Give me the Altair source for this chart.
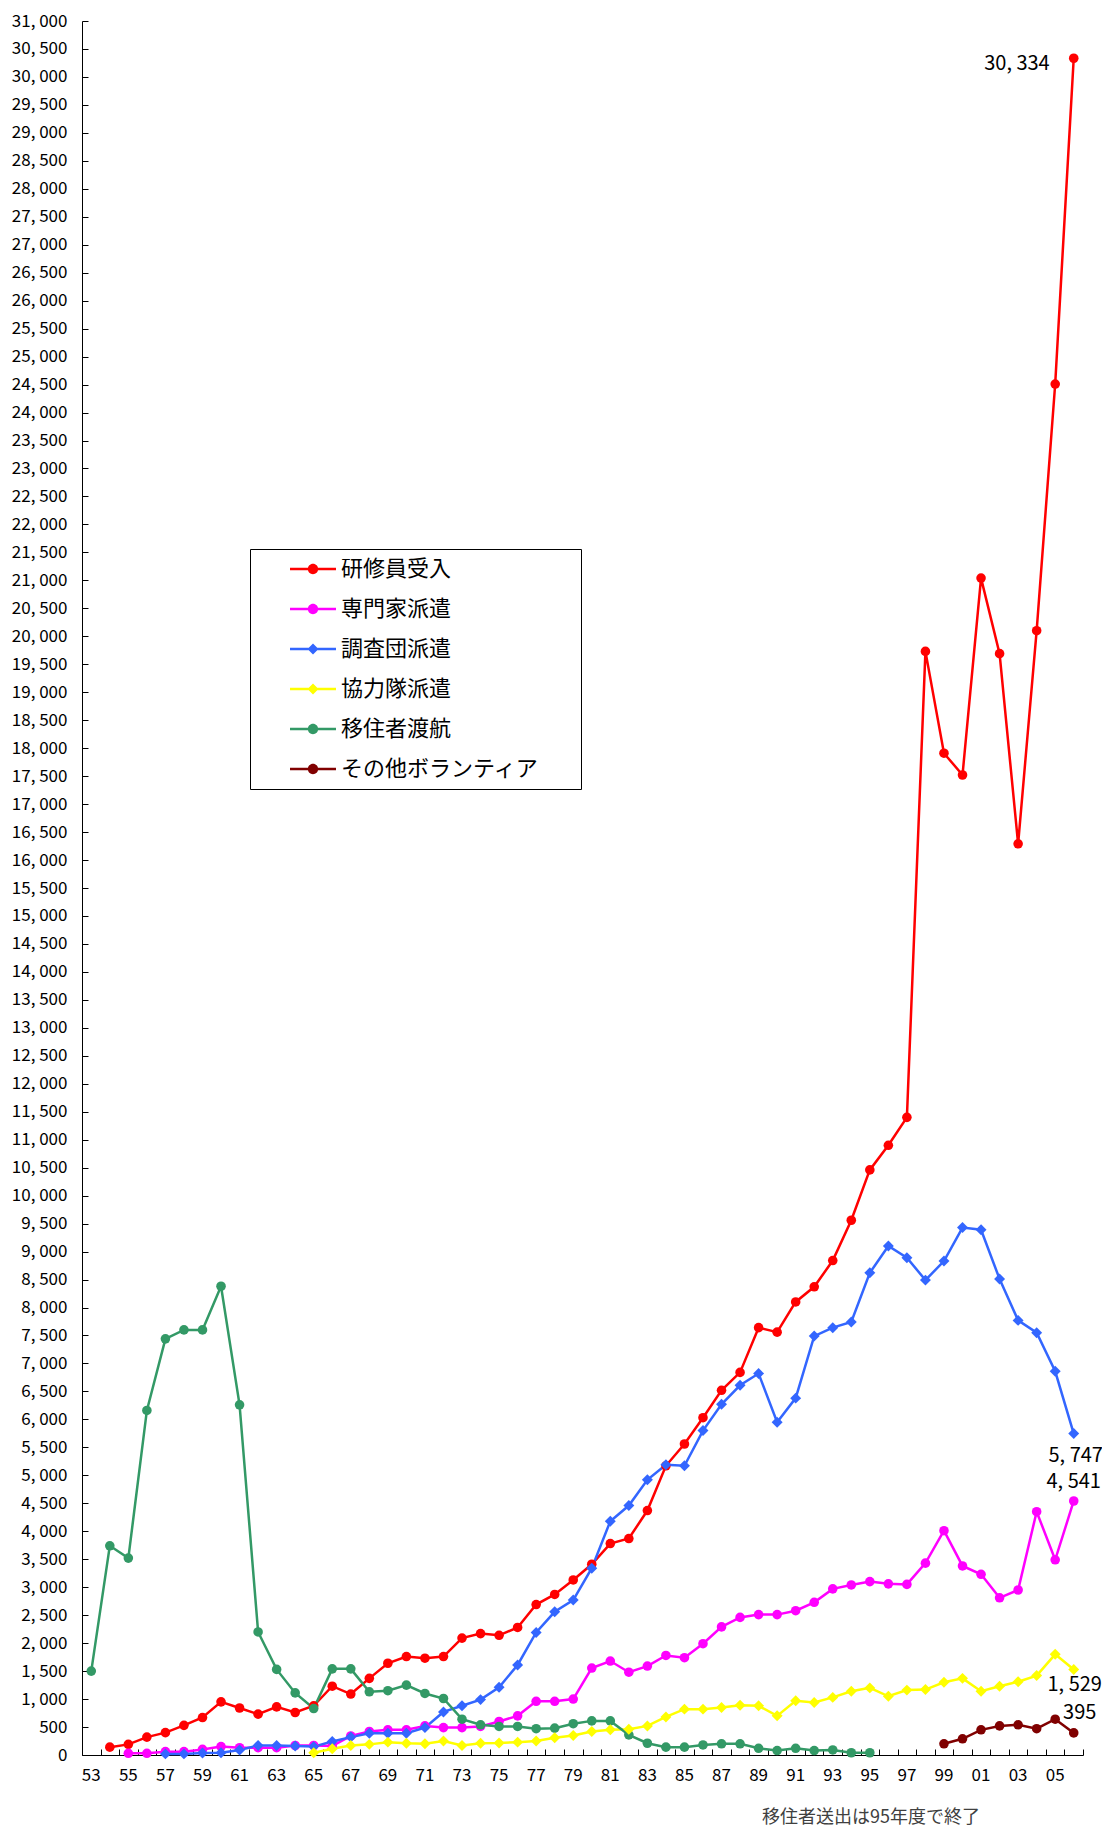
import altair as alt
import pandas as pd

FONT = "Noto Sans CJK JP"
W, H = 1001, 1734

years = list(range(1953, 2007))
series_names = ["研修員受入", "専門家派遣", "調査団派遣", "協力隊派遣", "移住者渡航", "その他ボランティア"]
series_colors = ["#FF0000", "#FF00FF", "#3366FF", "#FFFF00", "#339966", "#800000"]
series_shapes = ["circle", "circle", "diamond", "diamond", "circle", "circle"]

# 研修員受入 1954-2006
trainee_start = 1954
trainee = [140, 190, 320, 400, 530, 670, 950, 840, 730, 860, 760, 880, 1230, 1090, 1370, 1640,
           1760, 1730, 1760, 2090, 2170, 2140, 2280, 2690, 2870, 3130, 3410, 3780, 3870, 4370,
           5170, 5560, 6030, 6520, 6840, 7640, 7560, 8100, 8370, 8840, 9560, 10460, 10900, 11400,
           19730, 17910, 17520, 21040, 19690, 16290, 20100, 24510, 30334]
# 専門家派遣 1955-2006
expert_start = 1955
expert = [30, 30, 60, 60, 100, 150, 130, 130, 130, 170, 170, 160, 340, 420, 450, 450, 520, 490,
          490, 510, 600, 700, 960, 960, 1000, 1555, 1680, 1480, 1590, 1780, 1740, 1990, 2290,
          2460, 2510, 2510, 2580, 2730, 2970, 3040, 3100, 3060, 3050, 3430, 4010, 3380, 3230,
          2810, 2950, 4350, 3490, 4541]
# 調査団派遣 1957-2006
survey_start = 1957
survey = [20, 20, 35, 40, 90, 170, 170, 160, 150, 240, 320, 390, 390, 390, 490, 770, 880, 990,
          1210, 1610, 2190, 2560, 2770, 3340, 4180, 4460, 4920, 5190, 5170, 5800, 6270, 6610,
          6820, 5950, 6380, 7490, 7640, 7740, 8620, 9100, 8890, 8490, 8830, 9430, 9390, 8510,
          7770, 7550, 6860, 5747]
# 協力隊派遣 1965-2006
jocv_start = 1965
jocv = [40, 110, 170, 190, 230, 210, 200, 250, 170, 210, 215, 230, 250, 310, 350, 420, 450, 460,
        520, 680, 820, 820, 850, 890, 880, 700, 970, 940, 1030, 1140, 1200, 1050, 1160, 1170,
        1300, 1370, 1140, 1230, 1310, 1420, 1800, 1529]
# 移住者渡航 1953-1995
emig_start = 1953
emig = [1500, 3740, 3520, 6160, 7440, 7600, 7600, 8380, 6260, 2200, 1530, 1110, 830, 1540, 1540,
        1130, 1150, 1250, 1100, 1010, 640, 540, 510, 510, 470, 480, 560, 610, 610, 360, 210, 140,
        140, 180, 200, 200, 120, 80, 120, 80, 90, 40, 40]
# その他ボランティア 1999-2006
other_start = 1999
other = [200, 290, 450, 520, 540, 470, 640, 395]

y_ticks = list(range(0, 31001, 500))
footnote = ["移住者送出は95年度で終了"]

rows = []
for name, start, vals in [
    (series_names[0], trainee_start, trainee),
    (series_names[1], expert_start, expert),
    (series_names[2], survey_start, survey),
    (series_names[3], jocv_start, jocv),
    (series_names[4], emig_start, emig),
    (series_names[5], other_start, other),
]:
    for i, v in enumerate(vals):
        rows.append({"series": name, "year": start + i, "value": v})
df = pd.DataFrame(rows)

circle_series = [n for n, s in zip(series_names, series_shapes) if s == "circle"]
diamond_series = [n for n, s in zip(series_names, series_shapes) if s == "diamond"]

# legend symbol paths: a short line with the marker in its middle
circle_path = ("M-2.09,-0.115L2.09,-0.115L2.09,0.115L-2.09,0.115Z "
               "M-0.47,0A0.47,0.47 0 1,1 0.47,0A0.47,0.47 0 1,1 -0.47,0Z")
diamond_path = ("M-2.09,-0.115L2.09,-0.115L2.09,0.115L-2.09,0.115Z "
                "M0,-0.5L0.5,0L0,0.5L-0.5,0Z")
legend_shapes = [diamond_path if s == "diamond" else circle_path for s in series_shapes]

x_scale = alt.Scale(type="band", domain=years, paddingInner=0, paddingOuter=0)
y_scale = alt.Scale(domain=[0, 31000], nice=False, zero=True)


def cscale():
    return alt.Scale(domain=series_names, range=series_colors)


base = alt.Chart(df)

main_x_axis = alt.Axis(title=None, orient="bottom", domain=True, domainColor="black", domainWidth=1,
                       ticks=False, tickSize=0, grid=False, labelAngle=0, labelOverlap=False,
                       labelExpr="datum.value % 2 == 1 ? slice(toString(datum.value), 2) : ''",
                       labelFont=FONT, labelFontSize=17, labelColor="black", labelPadding=12)
main_y_axis = alt.Axis(title=None, orient="left", values=y_ticks, domain=True, domainColor="black",
                       domainWidth=1, ticks=False, tickSize=0, grid=False, labelOverlap=False,
                       labelExpr="replace(format(datum.value, ','), ',', ', ')",
                       labelFont=FONT, labelFontSize=17, labelColor="black", labelPadding=15)

lines = base.mark_line(strokeWidth=2.5).encode(
    x=alt.X("year:O", scale=x_scale, axis=main_x_axis),
    y=alt.Y("value:Q", scale=y_scale, axis=main_y_axis),
    color=alt.Color("series:N", scale=cscale(), legend=None),
    detail="series:N",
)

circles = base.transform_filter(
    alt.FieldOneOfPredicate(field="series", oneOf=circle_series)
).mark_point(filled=True, size=92, opacity=1, shape="circle").encode(
    x=alt.X("year:O", scale=x_scale, axis=None),
    y=alt.Y("value:Q", scale=y_scale, axis=None),
    color=alt.Color("series:N", scale=cscale(), legend=None),
)

diamonds = base.transform_filter(
    alt.FieldOneOfPredicate(field="series", oneOf=diamond_series)
).mark_point(filled=True, size=120, opacity=1, shape="diamond").encode(
    x=alt.X("year:O", scale=x_scale, axis=None),
    y=alt.Y("value:Q", scale=y_scale, axis=None),
    color=alt.Color("series:N", scale=cscale(), legend=None),
)

legend_kw = dict(
    orient="none", legendX=168, legendY=528, title=None, padding=9,
    strokeColor="black", fillColor="white",
    labelFont=FONT, labelFontSize=22, labelColor="black", labelLimit=400,
    symbolSize=484, symbolOffset=43, labelOffset=17, rowPadding=18,
    symbolStrokeWidth=0, labelExpr="datum.label + '\u2800\u2800'",
)

legend_layer = base.transform_filter("false").mark_point(filled=True, opacity=1).encode(
    color=alt.Color("series:N", scale=cscale(), legend=alt.Legend(**legend_kw)),
    shape=alt.Shape("series:N", scale=alt.Scale(domain=series_names, range=legend_shapes),
                    legend=alt.Legend(**legend_kw)),
)

tick_layer = base.mark_point(opacity=0, size=1).encode(
    x=alt.X("year:O", scale=x_scale,
            axis=alt.Axis(title=None, orient="top", offset=-H, labels=False, domain=False,
                          ticks=True, tickSize=6, tickColor="black", tickWidth=1,
                          tickBand="extent", grid=False)),
    y=alt.Y("value:Q", scale=y_scale,
            axis=alt.Axis(title=None, orient="right", offset=-W, values=y_ticks, labels=False,
                          domain=False, ticks=True, tickSize=6, tickColor="black", tickWidth=1,
                          grid=False)),
)

ann_specs = [
    (series_names[0], "right", -24, 6),
    (series_names[2], "center", 2, 22),
    (series_names[1], "center", 0, -19),
    (series_names[3], "center", 1, 16),
    (series_names[5], "center", 6, -20),
]
ann_layers = []
for name, align, dx, dy in ann_specs:
    ann_layers.append(
        base.transform_filter(
            (alt.datum.series == name) & (alt.datum.year == 2006)
        ).transform_calculate(
            lbl="replace(format(datum.value, ','), ',', ', ')"
        ).mark_text(align=align, baseline="middle", dx=dx, dy=dy, font=FONT, fontSize=20,
                    color="black").encode(
            x=alt.X("year:O", scale=x_scale, axis=None),
            y=alt.Y("value:Q", scale=y_scale, axis=None),
            text="lbl:N",
        )
    )

note = alt.Chart(pd.DataFrame({"note": footnote})).mark_text(
    align="left", baseline="middle", font=FONT, fontSize=18, color="#404040"
).encode(
    x=alt.value(680), y=alt.value(1797), text="note:N"
)

chart = alt.layer(tick_layer, lines, circles, diamonds, *ann_layers, note, legend_layer).resolve_axis(
    x="independent", y="independent"
).resolve_scale(
    color="independent", shape="independent"
).properties(
    width=W, height=H,
    autosize=alt.AutoSizeParams(type="none"),
    padding={"left": 74, "top": 13, "right": 19, "bottom": 75},
    background="white",
).configure_view(stroke="transparent")

chart.save("out.html", embed_options={"renderer": "svg", "actions": False})
